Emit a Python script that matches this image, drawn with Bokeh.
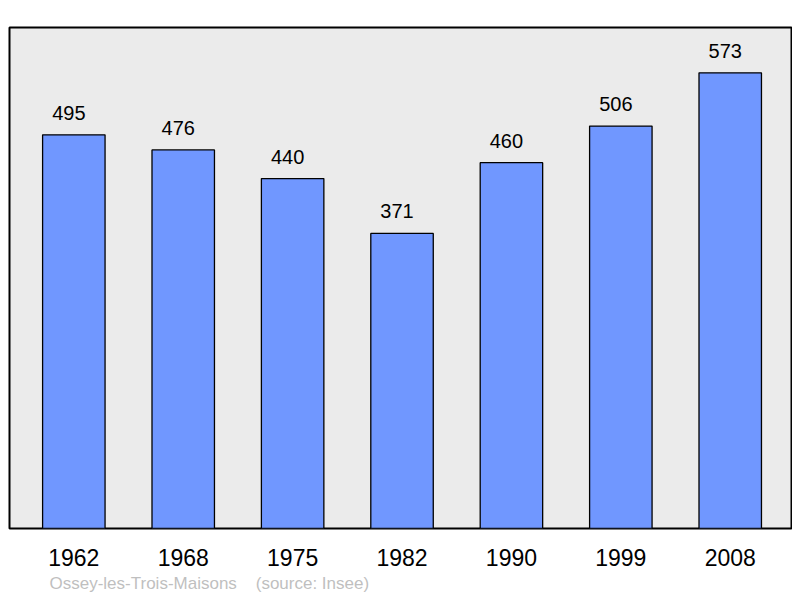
from bokeh.plotting import figure
from bokeh.models import Range1d, FixedTicker, Title
from bokeh.core.properties import value
from bokeh.embed import file_html
from bokeh.resources import INLINE

years = ["1962", "1968", "1975", "1982", "1990", "1999", "2008"]
population = [495, 476, 440, 371, 460, 506, 573]
commune = "Ossey-les-Trois-Maisons"
source = "(source: Insee)"

xs = list(range(len(years)))

p = figure(width=792, height=595, output_backend="svg", toolbar_location=None,
           x_range=Range1d(-0.588, 6.56), y_range=Range1d(0, 630),
           min_border_left=9, min_border_right=1, min_border_top=27, min_border_bottom=10)
p.background_fill_color = "#ebebeb"
p.border_fill_color = "white"
p.outline_line_color = "black"
p.outline_line_width = 2
p.grid.visible = False
p.yaxis.visible = False

p.vbar(x=xs, top=population, bottom=0, width=0.571, fill_color="#7097ff",
       line_color="black", line_width=1.3)

p.text(x=xs, y=population, text=[str(v) for v in population], x_offset=-5, y_offset=-22,
       text_align="center", text_baseline="alphabetic", text_font=value("Liberation Sans"),
       text_font_size="20px", text_color="black")

ax = p.xaxis[0]
ax.ticker = FixedTicker(ticks=xs)
ax.major_label_overrides = {i: y for i, y in enumerate(years)}
ax.axis_line_color = None
ax.major_tick_line_color = None
ax.minor_tick_line_color = None
ax.major_tick_out = 0
ax.major_tick_in = 0
ax.major_label_standoff = 20
ax.major_label_text_font = "Liberation Sans"
ax.major_label_text_font_size = "23px"
ax.major_label_text_color = "black"

p.add_layout(Title(text=commune + "\u00a0" * 4 + source, align="left", offset=40,
                   text_font="Liberation Sans", text_font_size="17px", text_color="#bfbfbf",
                   text_font_style="normal", standoff=6), "below")

open("out.html", "w").write(file_html(p, INLINE))
